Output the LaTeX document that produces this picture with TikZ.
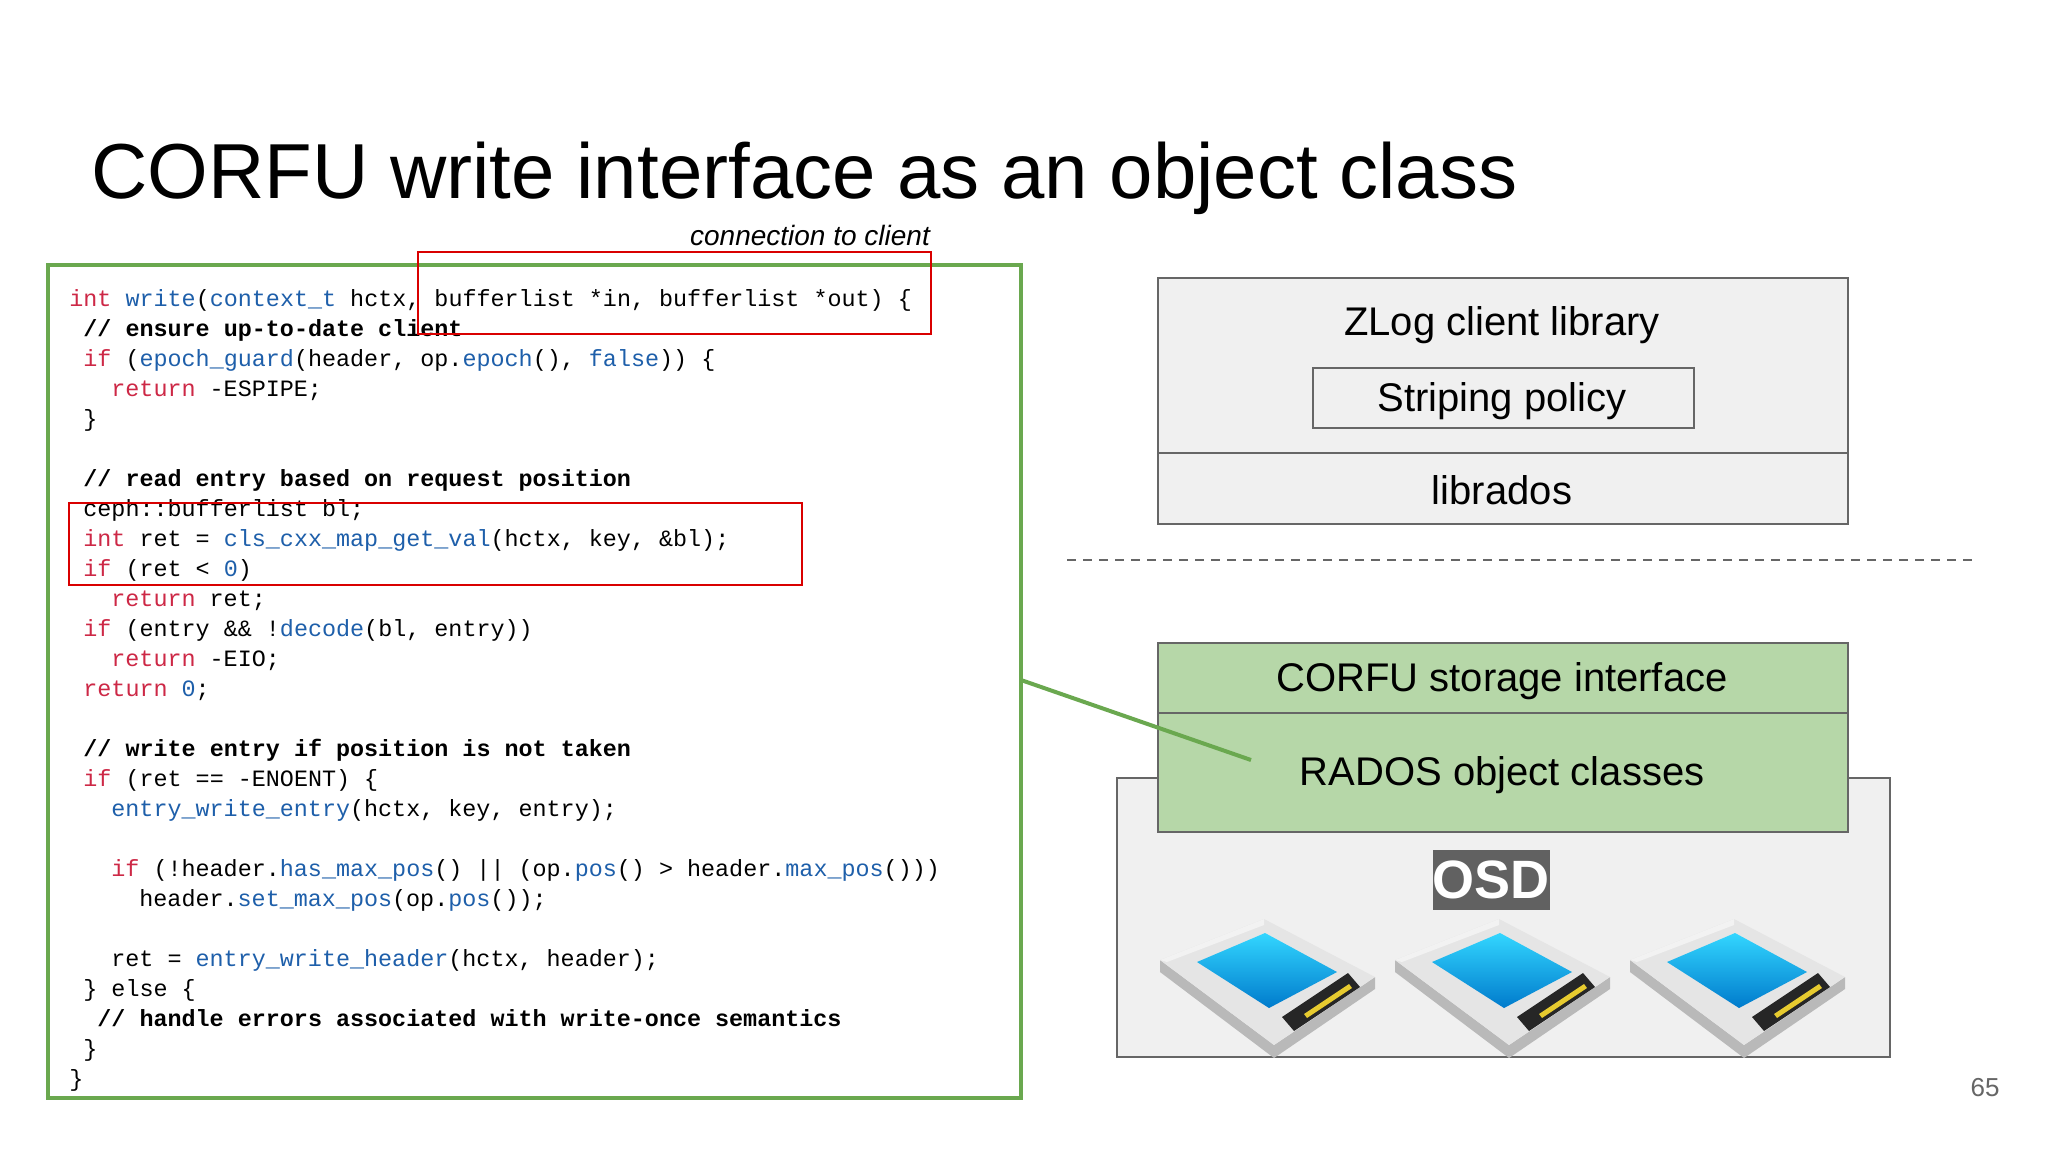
\documentclass[tikz,border=0pt]{standalone}
\usepackage{fontspec}
\setmainfont{Liberation Sans}
\newfontfamily\codefont{Liberation Mono}
\usetikzlibrary{calc}
\definecolor{kwred}{RGB}{205,40,70}
\definecolor{fnblue}{RGB}{30,95,170}
\definecolor{gline}{RGB}{106,168,79}
\definecolor{gfill}{RGB}{182,215,168}
\definecolor{boxgrey}{RGB}{102,102,102}
\definecolor{lgrey}{RGB}{240,240,240}
\newcommand{\kw}[1]{\textcolor{kwred}{#1}}
\newcommand{\fn}[1]{\textcolor{fnblue}{#1}}
\begin{document}
\begin{tikzpicture}[x=0.5pt,y=-0.5pt,
  cd/.style={anchor=base west,inner sep=0pt,font=\codefont\fontsize{11.7}{14}\selectfont},
  cmt/.style={cd,font=\codefont\bfseries\fontsize{11.7}{14}\selectfont},
  boxtxt/.style={font=\fontsize{20}{24}\selectfont,inner sep=0pt},
  layer/.style={draw=boxgrey,line width=1.2pt},
  redbox/.style={draw=red!85!black,line width=1.2pt},
  pics/ssd/.style={code={
    \fill[gray!55] (-107,-20) -- (7,65) -- (108,-3) -- (108,9) -- (7,78) -- (-107,-8) -- cycle;
    \fill[gray!20] (-107,-20) -- (-3,-61) -- (108,-3) -- (7,65) -- cycle;
    \fill[gray!10] (-107,-20) -- (-3,-61) -- (-3,-55) -- (-100,-18) -- cycle;
    \shade[top color=cyan!80!blue!80,bottom color=cyan!60!blue!80!black] (-70,-18) -- (-2,-47) -- (70,-8) -- (2,28) -- cycle;
    \fill[black!85] (27,51) -- (93,7) -- (81,-7) -- (15,37) -- cycle;
    \fill[yellow!60!brown] (40,38) -- (85,8) -- (82,4) -- (37,34) -- cycle;
  }}]
\useasboundingbox (0,0) rectangle (2048,1152);
\fill[white] (0,0) rectangle (2048,1152);

\node[anchor=base west,inner sep=0pt,font=\fontsize{39}{46}\selectfont] (title) at (91,198) {CORFU write interface as an object class};

% code box
\draw[gline,line width=2.2pt] (48,265) rectangle (1021,1098);
\coordinate (codeedge) at (1021,680);

\node[cd] (l1) at (69,306) {\kw{int} \fn{write}(\fn{context\_t} hctx, bufferlist *in, bufferlist *out) \{};
\node[cmt] (l2) at (83,336) {// ensure up-to-date client};
\node[cd] (l3) at (83,366) {\kw{if} (\fn{epoch\_guard}(header, op.\fn{epoch}(), \fn{false})) \{};
\node[cd] (l4) at (111,396) {\kw{return} -ESPIPE;};
\node[cd] (l5) at (83,426) {\}};
\node[cmt] (l7) at (83,486) {// read entry based on request position};
\node[cd] (l8) at (83,516) {ceph::bufferlist bl;};
\node[cd] (l9) at (83,546) {\kw{int} ret = \fn{cls\_cxx\_map\_get\_val}(hctx, key, \&bl);};
\node[cd] (l10) at (83,576) {\kw{if} (ret < \fn{0})};
\node[cd] (l11) at (111,606) {\kw{return} ret;};
\node[cd] (l12) at (83,636) {\kw{if} (entry \&\& !\fn{decode}(bl, entry))};
\node[cd] (l13) at (111,666) {\kw{return} -EIO;};
\node[cd] (l14) at (83,696) {\kw{return} \fn{0};};
\node[cmt] (l16) at (83,756) {// write entry if position is not taken};
\node[cd] (l17) at (83,786) {\kw{if} (ret == -ENOENT) \{};
\node[cd] (l18) at (111,816) {\fn{entry\_write\_entry}(hctx, key, entry);};
\node[cd] (l20) at (111,876) {\kw{if} (!header.\fn{has\_max\_pos}() || (op.\fn{pos}() > header.\fn{max\_pos}()))};
\node[cd] (l21) at (139,906) {header.\fn{set\_max\_pos}(op.\fn{pos}());};
\node[cd] (l23) at (111,966) {ret = \fn{entry\_write\_header}(hctx, header);};
\node[cd] (l24) at (83,996) {\} else \{};
\node[cmt] (l25) at (97,1026) {// handle errors associated with write-once semantics};
\node[cd] (l26) at (83,1056) {\}};
\node[cd] (l27) at (69,1086) {\}};

\draw[redbox] (418,252) rectangle (931,334);
\draw[redbox] (69,503) rectangle (802,585);
\node[font=\itshape\fontsize{14}{17}\selectfont,inner sep=0pt] (conn) at (810,235) {connection to client};

% ZLog box
\draw[layer,fill=lgrey] (1158,278) rectangle (1848,524);
\draw[layer] (1158,453) -- (1848,453);
\node[boxtxt] (zlog) at (1502,325) {ZLog client library};
\draw[layer] (1313,368) rectangle (1694,428);
\node[boxtxt] (strip) at (1502,401) {Striping policy};
\node[boxtxt] (librados) at (1502,490) {librados};

\draw[boxgrey,line width=1.1pt,dash pattern=on 4.5pt off 3.5pt] (1067,560) -- (1972,560);

% OSD box
\draw[layer,fill=lgrey] (1117,778) rectangle (1890,1057);
\draw[layer,fill=gfill] (1158,643) rectangle (1848,832);
\draw[layer] (1158,713) -- (1848,713);
\node[boxtxt] (corfu) at (1502,681) {CORFU storage interface};
\node[boxtxt] (rados) at (1502,775) {RADOS object classes};
\coordinate (radosin) at (1251,760);
\draw[gline,line width=2pt] (codeedge) -- (radosin);

\node[fill=black!62,text=white,font=\bfseries\fontsize{27}{30}\selectfont,minimum width=56.5pt,minimum height=30pt,inner sep=0pt] (osd) at (1491,880) {OSD};

\pic at (1267,980) {ssd};
\pic at (1502,980) {ssd};
\pic at (1737,980) {ssd};

\node[text=black!60,font=\fontsize{13}{15}\selectfont,inner sep=0pt] (page) at (1985,1088) {65};
\end{tikzpicture}
\end{document}
